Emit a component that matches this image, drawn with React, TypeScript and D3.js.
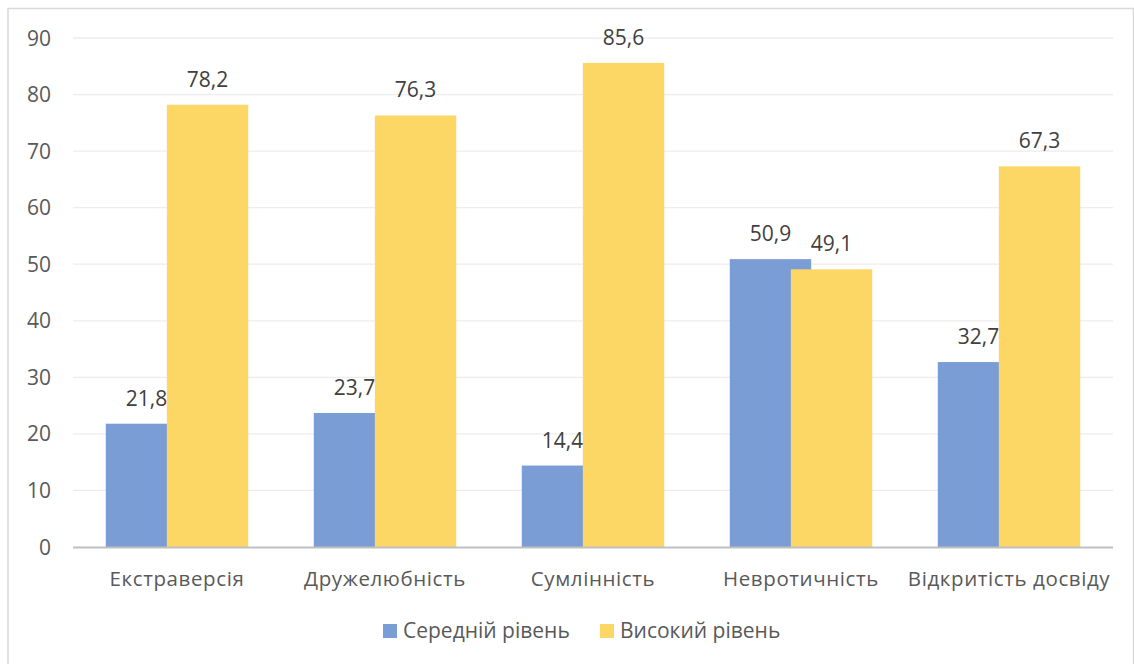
import React from "react";
import * as d3 from "d3";

const categories = ["Екстраверсія", "Дружелюбність", "Сумлінність", "Невротичність", "Відкритість досвіду"];
const seriesNames = ["Середній рівень", "Високий рівень"];
const middleLevel = [21.8, 23.7, 14.4, 50.9, 32.7];
const highLevel = [78.2, 76.3, 85.6, 49.1, 67.3];
const yTicks = [0, 10, 20, 30, 40, 50, 60, 70, 80, 90];
const seriesColors = ["#7b9dd6", "#fdd766"];

const W = 1134;
const H = 664;
const plot = { left: 73, right: 1113, top: 38, bottom: 547 };
const FONT = "'Open Sans', 'Noto Sans', sans-serif";

export default function App() {
  const x = d3
    .scaleBand<string>()
    .domain(categories)
    .range([plot.left, plot.right])
    .paddingInner(0.315)
    .paddingOuter(0.1575);
  const y = d3.scaleLinear().domain([0, 90]).range([plot.bottom, plot.top]);

  // bars overlap by 25% of their width within a group
  const overlap = 0.25;
  const barW = x.bandwidth() / (2 - overlap);
  const step = barW * (1 - overlap);

  const series = [middleLevel, highLevel];
  const fmt = (v: number) => v.toFixed(1).replace(".", ",");

  return (
    <svg
      width={W}
      height={H}
      style={{ position: "absolute", left: 0, top: 0, background: "#fff" }}
      fontFamily={FONT}
    >
      <rect x={0} y={0} width={W} height={H} fill="#fff" />
      {/* chart frame */}
      <path d={`M8,${H} V8.5 H${W - 0.5} V${H}`} fill="none" stroke="#d9d9d9" strokeWidth={1.5} />

      {/* gridlines */}
      {yTicks.slice(1).map((t) => (
        <line key={t} x1={plot.left} x2={plot.right} y1={y(t)} y2={y(t)} stroke="#ececec" strokeWidth={1.3} />
      ))}

      {/* y tick labels */}
      {yTicks.map((t) => (
        <text key={t} x={51} y={y(t)} dy="0.36em" textAnchor="end" fontSize={21} fill="#595959">
          {t}
        </text>
      ))}

      {/* bars and value labels, series by series */}
      {series.map((vals, s) => (
        <g key={s}>
          {vals.map((v, i) => {
            const bx = (x(categories[i]) as number) + s * step;
            return (
              <rect key={i} x={bx} y={y(v)} width={barW} height={y(0) - y(v)} fill={seriesColors[s]} />
            );
          })}
          {vals.map((v, i) => {
            const bx = (x(categories[i]) as number) + s * step;
            return (
              <text key={"l" + i} x={bx + barW / 2} y={y(v) - 18} textAnchor="middle" fontSize={21} fill="#404040">
                {fmt(v)}
              </text>
            );
          })}
        </g>
      ))}

      {/* x axis line */}
      <line x1={plot.left} x2={plot.right} y1={y(0) + 0.5} y2={y(0) + 0.5} stroke="#bfbfbf" strokeWidth={2} />

      {/* category labels */}
      {categories.map((c) => (
        <text
          key={c}
          x={(x(c) as number) + x.bandwidth() / 2}
          y={586}
          textAnchor="middle"
          fontSize={20.5}
          letterSpacing={0.6}
          fill="#595959"
        >
          {c}
        </text>
      ))}

      {/* legend */}
      {seriesNames.map((n, s) => {
        const lx = s === 0 ? 383 : 600;
        return (
          <g key={n}>
            <rect x={lx} y={624} width={14} height={14} fill={seriesColors[s]} />
            <text x={lx + 20} y={638} fontSize={21} fill="#595959">
              {n}
            </text>
          </g>
        );
      })}
    </svg>
  );
}
